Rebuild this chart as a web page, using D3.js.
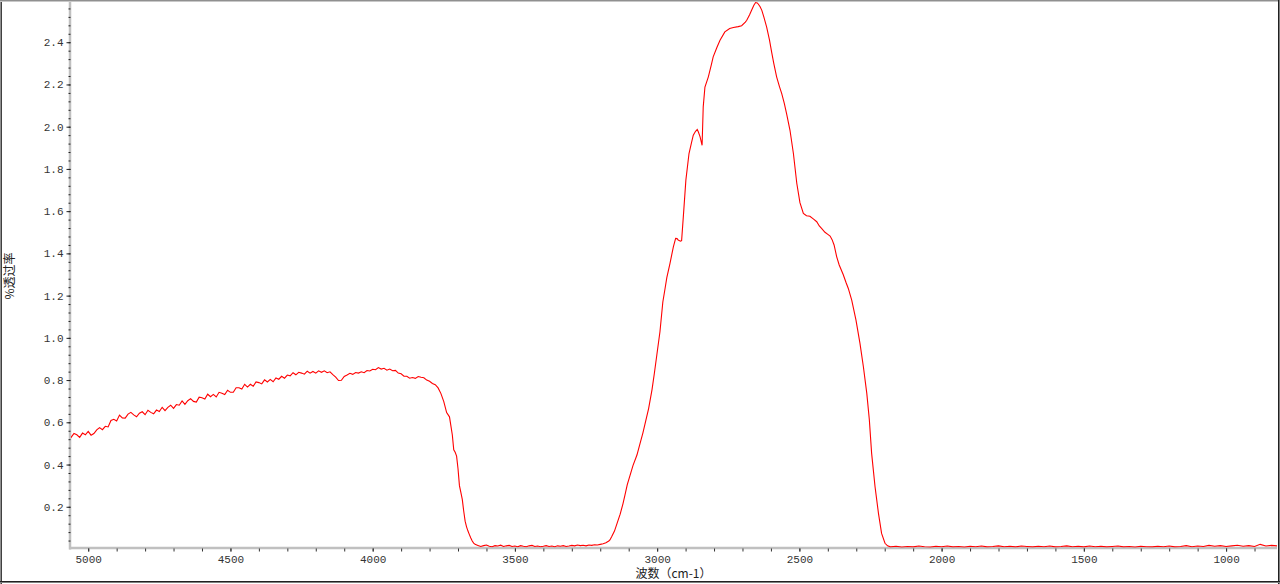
<!DOCTYPE html>
<html>
<head>
<meta charset="utf-8">
<script src="https://cdn.jsdelivr.net/npm/d3@7"></script>
<style>
html,body{margin:0;padding:0;background:#fff;}
svg{display:block;}
</style>
</head>
<body>
<svg id="chart" width="1280" height="584"></svg>
<script>
// ---- data: [wavenumber (cm-1), %transmittance] ----
const xTickLabels = [5000, 4500, 4000, 3500, 3000, 2500, 2000, 1500, 1000];
const yTickLabels = [0.2, 0.4, 0.6, 0.8, 1.0, 1.2, 1.4, 1.6, 1.8, 2.0, 2.2, 2.4];
const xLabel = "波数（cm-1）";
const yLabel = "%透过率";

const segHighWave = [
[5064,0.535],[5060,0.529],[5050,0.547],[5040,0.541],[5030,0.529],[5020,0.549],[5010,0.541],[5000,0.557],
[4990,0.539],[4980,0.547],[4970,0.564],[4960,0.575],[4950,0.565],[4940,0.581],[4930,0.578],[4920,0.609],
[4910,0.614],[4900,0.606],[4890,0.634],[4880,0.621],[4870,0.620],[4860,0.639],[4850,0.647],[4840,0.635],
[4830,0.626],[4820,0.643],[4810,0.650],[4800,0.636],[4790,0.657],[4780,0.647],[4770,0.640],[4760,0.658],
[4750,0.651],[4740,0.671],[4730,0.655],[4720,0.671],[4710,0.681],[4700,0.666],[4690,0.684],[4680,0.681],
[4670,0.701],[4660,0.685],[4650,0.702],[4640,0.712],[4630,0.699],[4620,0.696],[4610,0.719],[4600,0.716],
[4590,0.710],[4580,0.733],[4570,0.721],[4560,0.732],[4550,0.720],[4540,0.742],[4530,0.738],[4520,0.732],
[4510,0.752],[4500,0.742],[4490,0.742],[4480,0.764],[4470,0.764],[4460,0.758],[4450,0.780],[4440,0.767],
[4430,0.780],[4420,0.771],[4410,0.791],[4400,0.788],[4390,0.782],[4380,0.801],[4370,0.791],[4360,0.803],
[4350,0.792],[4340,0.810],[4330,0.804],[4320,0.818],[4310,0.809],[4300,0.824],[4290,0.820],[4280,0.835],
[4270,0.825],[4260,0.837],[4250,0.833],[4240,0.828],[4230,0.842],[4220,0.833],[4210,0.841],[4200,0.833],
[4190,0.844],[4180,0.837],[4170,0.844],[4160,0.835],[4150,0.839],[4140,0.826],[4130,0.814],[4120,0.798],
[4110,0.799],[4100,0.817],[4090,0.824],[4080,0.832],[4070,0.827],[4060,0.836],[4050,0.833],[4040,0.839],
[4030,0.835],[4020,0.845],[4010,0.843],[4000,0.851],[3990,0.849],[3980,0.859],[3970,0.852],[3960,0.856],
[3950,0.847],[3940,0.852],[3930,0.844],[3920,0.846],[3910,0.833],[3900,0.830],[3890,0.818],[3880,0.818],
[3870,0.809],[3860,0.812],[3850,0.808],[3840,0.817],[3830,0.813],[3820,0.811],[3810,0.800],[3800,0.794],
[3790,0.784],[3780,0.778],[3770,0.763],[3760,0.736],[3750,0.698],[3740,0.646],[3730,0.626],[3720,0.540],
[3715,0.470],[3710,0.458],[3705,0.440],[3700,0.380],[3695,0.300],[3690,0.268],[3685,0.235],[3680,0.180],
[3675,0.132],[3670,0.105],[3665,0.085],[3660,0.068],[3655,0.052],[3650,0.038],[3645,0.028],[3640,0.022]
];

const segBaseline1 = [
[3630,0.017],[3620,0.012],[3610,0.016],[3600,0.019],[3590,0.013],[3580,0.011],[3570,0.016],[3560,0.014],
[3550,0.018],[3540,0.012],[3530,0.015],[3520,0.017],[3510,0.012],[3500,0.014],[3490,0.011],[3480,0.016],
[3470,0.013],[3460,0.011],[3450,0.015],[3440,0.017],[3430,0.012],[3420,0.014],[3410,0.011],[3400,0.013],
[3390,0.016],[3380,0.012],[3370,0.014],[3360,0.011],[3350,0.015],[3340,0.013],[3330,0.016],[3320,0.012],
[3310,0.014],[3300,0.017],[3290,0.015],[3280,0.019],[3270,0.016],[3260,0.018],[3250,0.015],[3240,0.019],
[3230,0.017],[3220,0.020],[3210,0.019],[3200,0.022]
];

const segBand = [
[3190,0.025],[3180,0.030],[3170,0.038],[3166,0.043],[3160,0.058],[3150,0.085],[3140,0.125],[3130,0.165],
[3120,0.215],[3113,0.256],[3105,0.305],[3095,0.350],[3085,0.395],[3071,0.445],[3060,0.500],[3050,0.550],
[3043,0.590],[3030,0.665],[3018,0.755],[3010,0.830],[3001,0.920],[2990,1.030],[2980,1.170],[2972,1.235],
[2966,1.285],[2955,1.352],[2943,1.431],[2935,1.471],[2930,1.470],[2926,1.463],[2918,1.458],[2914,1.460],
[2908,1.573],[2899,1.747],[2888,1.873],[2880,1.920],[2873,1.960],[2865,1.978],[2859,1.987],[2855,1.975],
[2849,1.952],[2842,1.912],[2838,2.094],[2832,2.188],[2820,2.236],[2810,2.290],[2803,2.331],[2790,2.375],
[2779,2.409],[2762,2.449],[2745,2.465],[2732,2.470],[2715,2.474],[2703,2.478],[2690,2.495],[2685,2.504],
[2675,2.530],[2668,2.551],[2660,2.575],[2654,2.588],[2648,2.586],[2644,2.580],[2638,2.568],[2632,2.551],
[2625,2.520],[2615,2.472],[2605,2.410],[2597,2.350],[2590,2.300],[2580,2.236],[2570,2.190],[2562,2.157],
[2553,2.110],[2545,2.062],[2533,1.983],[2521,1.873],[2509,1.731],[2498,1.640],[2486,1.589],[2475,1.578],
[2463,1.576],[2450,1.562],[2439,1.550],[2430,1.530],[2422,1.518],[2410,1.500],[2400,1.490],[2392,1.482],
[2385,1.465],[2378,1.440],[2369,1.385],[2360,1.345],[2346,1.300],[2336,1.262],[2328,1.234],[2316,1.179],
[2301,1.084],[2287,0.974],[2275,0.863],[2263,0.737],[2254,0.611],[2246,0.453],[2234,0.295],[2222,0.169],
[2211,0.074],[2199,0.027],[2190,0.015]
];

const segBaseline2 = [
[2180,0.010],[2160,0.013],[2140,0.009],[2120,0.012],[2100,0.010],[2080,0.014],[2060,0.011],[2040,0.009],
[2020,0.013],[2000,0.011],[1980,0.014],[1960,0.010],[1940,0.012],[1920,0.009],[1900,0.013],[1880,0.011],
[1860,0.014],[1840,0.010],[1820,0.012],[1800,0.015],[1780,0.011],[1760,0.013],[1740,0.010],[1720,0.014],
[1700,0.012],[1680,0.010],[1660,0.013],[1640,0.011],[1620,0.014],[1600,0.010],[1580,0.012],[1560,0.015],
[1540,0.011],[1520,0.013],[1500,0.010],[1480,0.014],[1460,0.011],[1440,0.013],[1420,0.010],[1400,0.012],
[1380,0.014],[1360,0.010],[1340,0.012],[1320,0.009],[1300,0.013],[1280,0.011],[1260,0.010],[1240,0.013],
[1220,0.011],[1200,0.014],[1180,0.010],[1160,0.012],[1140,0.016],[1120,0.011],[1100,0.014],[1080,0.012],
[1060,0.017],[1040,0.013],[1020,0.016],[1000,0.012],[980,0.015],[960,0.018],[940,0.013],[920,0.016],
[900,0.012],[880,0.022],[860,0.014],[840,0.017],[821,0.015]
];

const spectrum = [].concat(segHighWave, segBaseline1, segBand, segBaseline2);

// ---- layout ----
const W = 1280, H = 584;
const plot = {left: 70, right: 1277, top: 0, bottom: 549};

const svg = d3.select("#chart");

const x = d3.scaleLinear().domain([5064, 821]).range([plot.left, plot.right]);
const y = d3.scaleLinear().domain([0, 2.6]).range([plot.bottom, plot.top]);

// background
svg.append("rect").attr("x",0).attr("y",0).attr("width",W).attr("height",H).attr("fill","#fff");

// gray axis lines
svg.append("line").attr("x1",plot.left).attr("x2",plot.left).attr("y1",0).attr("y2",plot.bottom+0.5)
  .attr("stroke","#c0c0c0").attr("stroke-width",2.5);
svg.append("line").attr("x1",plot.left-1).attr("x2",plot.right).attr("y1",plot.bottom-1).attr("y2",plot.bottom-1)
  .attr("stroke","#c0c0c0").attr("stroke-width",2.5);

// y minor ticks
const yMinor = [];
for (let i = 1; i <= 64; i++) { const v = +(i*0.04).toFixed(2); if (v <= 2.6) yMinor.push(v); }
svg.append("g").attr("transform",`translate(${plot.left+0.5},0)`)
  .call(d3.axisLeft(y).tickValues(yMinor).tickSize(2).tickFormat(""))
  .call(g => g.select(".domain").remove())
  .call(g => g.selectAll("line").attr("stroke","#222"));

// y major ticks + labels
svg.append("g").attr("transform",`translate(${plot.left+0.5},0)`)
  .call(d3.axisLeft(y).tickValues(yTickLabels).tickSize(4).tickPadding(3).tickFormat(d3.format(".1f")))
  .call(g => g.select(".domain").remove())
  .call(g => g.selectAll("line").attr("stroke","#222"))
  .call(g => g.selectAll("text").attr("fill","#333").style("font-family","'Liberation Mono', 'DejaVu Sans Mono', monospace").style("font-size","11px"));

// x ticks (every 100) and labels (every 500)
const xMinor = d3.range(5000, 820, -100);
svg.append("g").attr("transform",`translate(0,${plot.bottom-0.5})`)
  .call(d3.axisBottom(x).tickValues(xMinor).tickSize(3).tickFormat(""))
  .call(g => g.select(".domain").remove())
  .call(g => g.selectAll("line").attr("stroke","#333"));
svg.append("g").attr("transform",`translate(0,${plot.bottom-0.5})`)
  .call(d3.axisBottom(x).tickValues(xTickLabels).tickSize(3).tickPadding(4).tickFormat(d3.format("d")))
  .call(g => g.select(".domain").remove())
  .call(g => g.selectAll("line").attr("stroke","#333"))
  .call(g => g.selectAll("text").attr("fill","#333").style("font-family","'Liberation Mono', 'DejaVu Sans Mono', monospace").style("font-size","11px"));

// clip
svg.append("clipPath").attr("id","clip").append("rect")
  .attr("x",plot.left+1).attr("y",1).attr("width",plot.right-plot.left-1).attr("height",plot.bottom-2.5);

// spectrum line
svg.append("path").datum(spectrum)
  .attr("clip-path","url(#clip)")
  .attr("fill","none").attr("stroke","#ff0000").attr("stroke-width",1.1)
  .attr("d", d3.line().x(d => x(d[0])).y(d => y(d[1])));

// axis titles
svg.append("text").attr("x",(plot.left+plot.right)/2).attr("y",578)
  .attr("text-anchor","middle").attr("fill","#222")
  .style("font-family","'Noto Sans CJK SC', sans-serif").style("font-size","12px")
  .text(xLabel);
svg.append("text").attr("transform","translate(14,276) rotate(-90)")
  .attr("text-anchor","middle").attr("fill","#222")
  .style("font-family","'Noto Sans CJK SC', sans-serif").style("font-size","12px")
  .text(yLabel);

// window frame
svg.append("line").attr("x1",0.5).attr("x2",0.5).attr("y1",0).attr("y2",H).attr("stroke","#909090");
svg.append("line").attr("x1",1.5).attr("x2",1.5).attr("y1",0).attr("y2",H).attr("stroke","#404040");
svg.append("line").attr("x1",0).attr("x2",W).attr("y1",0.5).attr("y2",0.5).attr("stroke","#909090");
svg.append("line").attr("x1",0).attr("x2",W).attr("y1",1.5).attr("y2",1.5).attr("stroke","#c8c8c8");
svg.append("line").attr("x1",W-1.5).attr("x2",W-1.5).attr("y1",0).attr("y2",H).attr("stroke","#202020");
svg.append("line").attr("x1",W-0.5).attr("x2",W-0.5).attr("y1",0).attr("y2",H).attr("stroke","#808080");
svg.append("line").attr("x1",0).attr("x2",W).attr("y1",581.5).attr("y2",581.5).attr("stroke","#202020");
svg.append("line").attr("x1",0).attr("x2",W).attr("y1",582.5).attr("y2",582.5).attr("stroke","#808080");
</script>
</body>
</html>
